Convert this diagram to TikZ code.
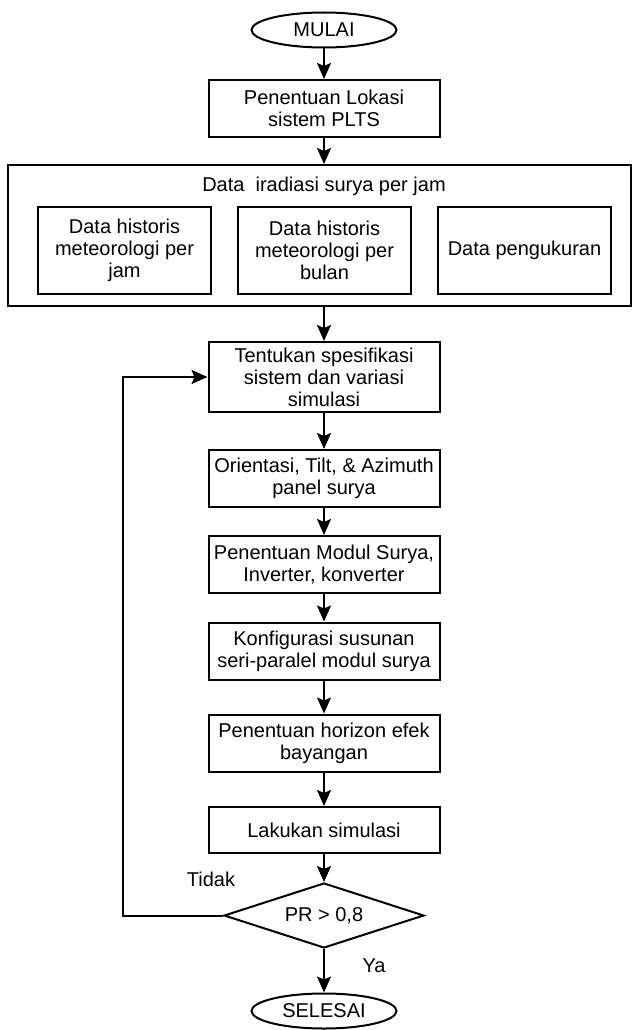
\documentclass[tikz,border=0pt]{standalone}
\usepackage{fontspec}
\setmainfont{Liberation Sans}
\usepackage{tikz}
\usetikzlibrary{arrows.meta}
\usetikzlibrary{shapes.geometric}

\tikzset{
  kotak/.style={draw, rectangle, align=center, inner sep=0pt,
    minimum width=231pt, minimum height=57pt},
  kecil/.style={draw, rectangle, align=center, inner sep=0pt,
    minimum width=173pt, minimum height=87pt},
  ujung/.style={draw, ellipse, inner sep=0pt,
    minimum width=145pt, minimum height=35pt},
  pilih/.style={draw, diamond, inner sep=0pt, aspect=3,
    minimum width=200pt, minimum height=65pt}
}

\begin{document}
\begin{tikzpicture}[x=1pt, y=-1pt, line width=2pt,
  >={Stealth[length=16pt,width=14pt,inset=3pt]},
  font=\fontsize{20}{22}\selectfont]
\useasboundingbox (0,0) rectangle (633,1030);

\node[ujung] (mulai) at (324,30) {MULAI};
\node[kotak] (lokasi) at (324,108.5) {Penentuan Lokasi\\sistem PLTS};

\node[draw, rectangle, inner sep=0pt, minimum width=623pt, minimum height=141pt]
  (data) at (319.5,235.5) {};
\node (judul) at (324,186) {Data\ \ iradiasi surya per jam};
\node[kecil] (jam) at (124.5,250.5) {Data historis\\meteorologi per\\jam};
\node[kecil] (bulan) at (324.5,250.5) {Data historis\\meteorologi per\\bulan};
\node[kecil] (ukur) at (524.5,250.5) {Data pengukuran};

\node[kotak, minimum height=70pt] (spek) at (324,377) {Tentukan spesifikasi\\sistem dan variasi\\simulasi};
\node[kotak] (orient) at (324,478.5) {Orientasi, Tilt, \& Azimuth\\panel surya};
\node[kotak] (modul) at (324,564.5) {Penentuan Modul Surya,\\Inverter, konverter};
\node[kotak] (konfig) at (324,651) {Konfigurasi susunan\\seri-paralel modul surya};
\node[kotak] (horizon) at (324,743) {Penentuan horizon efek\\bayangan};
\node[kotak, minimum height=46pt] (simul) at (324,830) {Lakukan simulasi};
\node[pilih] (cek) at (324,915.5) {PR > 0,8};
\node[ujung] (selesai) at (324,1011) {SELESAI};

\node (tidak) at (211,879) {Tidak};
\node (ya) at (374,966) {Ya};
\coordinate (balik) at (123,915.5);

\draw[->] (mulai) -- (lokasi);
\draw[->] (lokasi.south) -- (lokasi.south |- data.north);
\draw[->] (data.south -| spek.north) -- (spek.north);
\draw[->] (spek) -- (orient);
\draw[->] (orient) -- (modul);
\draw[->] (modul) -- (konfig);
\draw[->] (konfig) -- (horizon);
\draw[->] (horizon) -- (simul);
\draw[->] (simul) -- (cek);
\draw[->] (cek) -- (selesai);
\draw[->] (cek.west) -- (balik) |- (spek.west);
\end{tikzpicture}
\end{document}
